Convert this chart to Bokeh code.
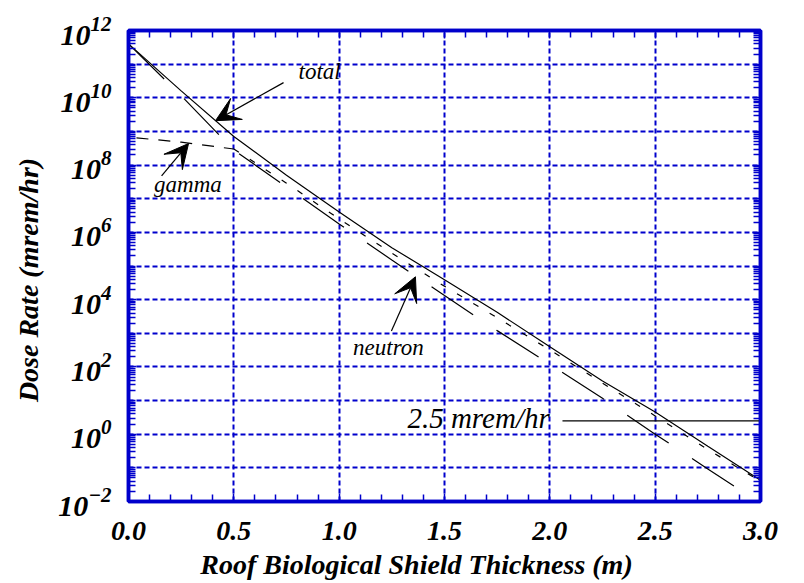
from bokeh.plotting import figure
from bokeh.models import (FixedTicker, LinearAxis, LogAxis, Arrow, VeeHead, Label,
                          ColumnDataSource, CustomJSTickFormatter, LogTickFormatter)
from bokeh.embed import file_html
from bokeh.resources import INLINE

# Roof shield thickness (m) and dose rates (mrem/hr)
thickness = [0.0, 0.25, 0.5, 0.75, 1.0, 1.25, 1.5, 1.75, 2.0, 2.25, 2.5, 2.75, 3.0]
total_dose = [4.0e11, 1.6e10, 7.1e8, 5.0e7, 4.0e6, 3.5e5, 3.9e4, 4.2e3, 4.0e2, 38.0, 4.6, 0.44, 0.043]
gamma_dose = [6.8e8, 4.8e8, 3.0e8, 2.9e7, 2.5e6, 2.4e5, 2.5e4, 2.9e3, 3.2e2, 33.0, 3.5, 0.35, 0.040]
neutron_dose = [4.0e11, 1.15e10, 2.8e8, 2.24e7, 1.78e6, 1.51e5, 1.32e4, 1.2e3, 1.2e2, 11.7, 1.0, 0.093, 0.0089]

dose_limit = 2.5  # mrem/hr

x_ticks = [0.0, 0.5, 1.0, 1.5, 2.0, 2.5, 3.0]
x_tick_labels = ["0.0", "0.5", "1.0", "1.5", "2.0", "2.5", "3.0"]
y_label_exponents = [-2, 0, 2, 4, 6, 8, 10, 12]

BLUE = "#0000cc"
SERIF = "Liberation Serif"

src = ColumnDataSource(dict(x=thickness, total=total_dose, gamma=gamma_dose, neutron=neutron_dose))

p = figure(width=804, height=583, x_range=(0, 3), y_range=(1e-2, 1e12),
           y_axis_type="log", output_backend="svg", toolbar_location=None,
           min_border_left=128, min_border_right=44, min_border_top=30, min_border_bottom=82)
p.background_fill_color = "white"
p.border_fill_color = "white"
p.outline_line_color = BLUE
p.outline_line_width = 3.5

# tick positions: labelled even decades, every other decade and 2..9 as minor ticks
x_minor = [round(0.1 * i, 1) for i in range(31) if i % 5 != 0]
y_major = [10.0 ** e for e in y_label_exponents]
y_minor = []
for e in range(-2, 12):
    for k in range(1, 10):
        if not (k == 1 and e in y_label_exponents):
            y_minor.append(k * 10.0 ** e)

xt = FixedTicker(ticks=x_ticks, minor_ticks=x_minor)
yt = FixedTicker(ticks=y_major, minor_ticks=y_minor)
blank = CustomJSTickFormatter(code="return ''")

def style_axis(ax, labels=True):
    ax.axis_line_color = BLUE
    ax.axis_line_width = 3.5
    ax.major_tick_line_color = BLUE
    ax.minor_tick_line_color = BLUE
    ax.major_tick_line_width = 1.5
    ax.minor_tick_line_width = 1.5
    ax.major_tick_in = 8
    ax.major_tick_out = 0
    ax.minor_tick_in = 7
    ax.minor_tick_out = 0
    if labels:
        ax.major_label_text_font = SERIF
        ax.major_label_text_font_style = "bold italic"
        ax.major_label_text_font_size = "28px"
        ax.major_label_text_color = "black"
        ax.axis_label_text_font = SERIF
        ax.axis_label_text_font_style = "bold italic"
        ax.axis_label_text_font_size = "28px"
        ax.axis_label_text_color = "black"
    else:
        ax.formatter = blank
        ax.major_label_standoff = 0

xa = p.xaxis[0]
xa.ticker = xt
xa.major_label_overrides = {t: s for t, s in zip(x_ticks, x_tick_labels)}
style_axis(xa)
xa.major_label_standoff = 20
xa.axis_label = "Roof   Biological   Shield   Thickness   (m)"
xa.axis_label_standoff = 6

ya = p.yaxis[0]
ya.ticker = yt
ya.formatter = LogTickFormatter()
style_axis(ya)
ya.major_label_text_font_size = "30px"
ya.major_label_standoff = 17
ya.axis_label = "Dose   Rate   (mrem/hr)"
ya.axis_label_standoff = 11

top = LinearAxis(ticker=xt)
style_axis(top, labels=False)
p.add_layout(top, "above")
right = LogAxis(ticker=yt)
style_axis(right, labels=False)
p.add_layout(right, "right")

p.xgrid.ticker = FixedTicker(ticks=[0.5, 1.0, 1.5, 2.0, 2.5])
p.ygrid.ticker = FixedTicker(ticks=[10.0 ** e for e in range(-1, 12)])
for g in (p.xgrid[0], p.ygrid[0]):
    g.grid_line_color = BLUE
    g.grid_line_width = 2
    g.grid_line_dash = "5 3"

# dose curves
p.line("x", "total", source=src, line_color="black", line_width=1.2)
p.line("x", "neutron", source=src, line_color="black", line_width=1.2, line_dash="50 28")
n_flat = thickness.index(0.5) + 1
p.line(thickness[:n_flat], gamma_dose[:n_flat], line_color="black", line_width=1.2,
       line_dash="12 10", line_dash_offset=14)
p.line(thickness[n_flat - 1:], gamma_dose[n_flat - 1:], line_color="black", line_width=1.2,
       line_dash="6 13")

# dose limit reference
p.segment(x0=2.06, x1=3.03, y0=dose_limit, y1=dose_limit, line_color="black", line_width=1.2)
p.add_layout(Label(x=1.324, y=1.0, text="2.5 mrem/hr", text_font=SERIF,
                   text_font_style="italic", text_font_size="29px", text_color="black"))

# curve annotations
def note(text, tx, ty, align, x0, y0, x1, y1):
    p.add_layout(Label(x=tx, y=ty, text=text, text_font=SERIF, text_font_style="italic",
                       text_font_size="23px", text_color="black", text_align=align))
    p.add_layout(Arrow(x_start=x0, y_start=y0, x_end=x1, y_end=y1, line_color="black",
                       line_width=1.2,
                       end=VeeHead(size=24, fill_color="black", line_color="black")))

note("total", 0.807, 10 ** 10.42, "left", 0.736, 10 ** 10.45, 0.413, 10 ** 9.32)
note("gamma", 0.282, 10 ** 7.05, "center", 0.157, 10 ** 7.68, 0.285, 10 ** 8.64)
note("neutron", 1.234, 10 ** 2.22, "center", 1.248, 10 ** 3.07, 1.362, 10 ** 4.68)

open("out.html", "w").write(file_html(p, INLINE))
